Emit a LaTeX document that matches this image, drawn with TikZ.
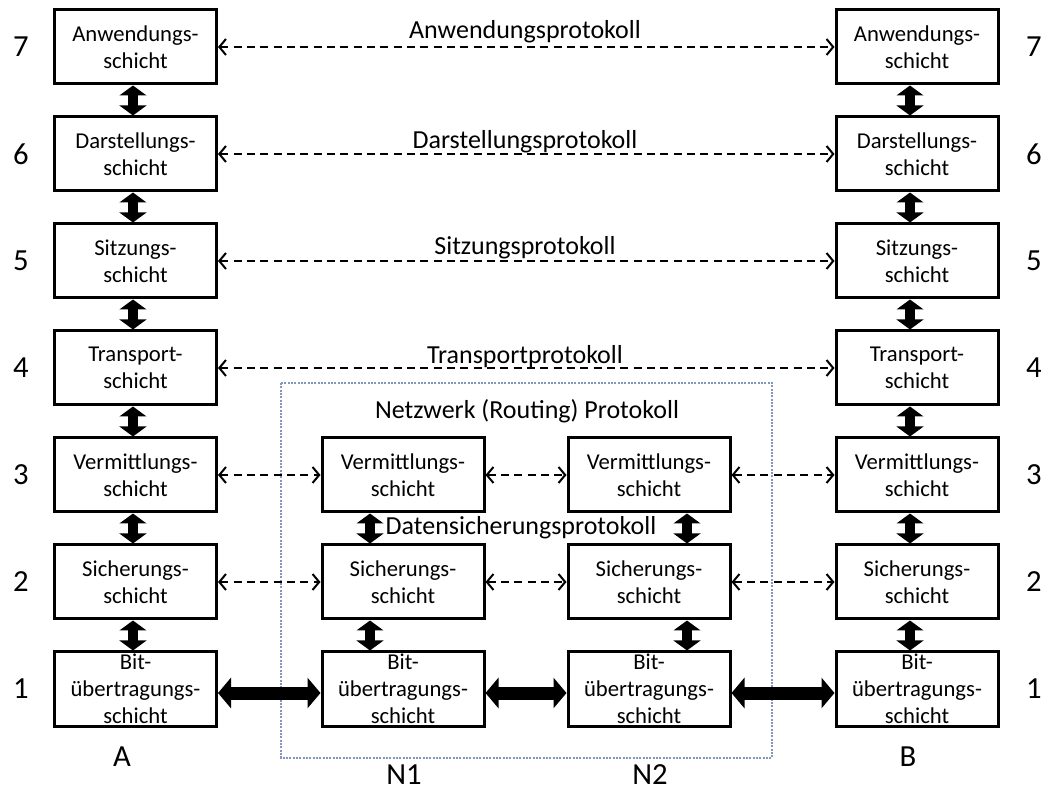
\documentclass[tikz,border=0pt]{standalone}
\usepackage{fontspec}
\setmainfont{Carlito}
\usetikzlibrary{arrows.meta}
\begin{document}
\begin{tikzpicture}[x=0.75pt,y=-0.75pt,
  layer/.style={draw, line width=2.25pt, minimum width=121.5pt, minimum height=55.5pt,
    inner sep=0pt, align=center, font=\fontsize{17}{20.4}\selectfont},
  proto/.style={font=\fontsize{19.5}{23}\selectfont, inner sep=0pt},
  big/.style={font=\fontsize{23}{27}\selectfont, inner sep=0pt},
  peer/.style={dash pattern=on 6pt off 4pt, line width=1.5pt,
    {Straight Barb[length=5pt,width=12pt]}-{Straight Barb[length=5pt,width=12pt]}},
  stack/.style={line width=8pt, {Triangle[length=7.5pt,width=20pt]}-{Triangle[length=7.5pt,width=20pt]}},
  link/.style={line width=9.75pt, {Triangle[length=9.75pt,width=22.5pt]}-{Triangle[length=9.75pt,width=22.5pt]}},
  netbox/.style={draw={rgb,255:red,130;green,150;blue,190}, densely dotted, line width=1.5pt},
]
% canvas
\fill[white] (0,0) rectangle (1047,791);

% network region around the intermediate systems
\draw[netbox] (281,383) rectangle (772,758);

% end systems A and B: seven layers each
\foreach \col/\x in {a/135.5, b/917}{
  \node[layer] (\col7) at (\x,47)  {Anwendungs-\\schicht};
  \node[layer] (\col6) at (\x,154) {Darstellungs-\\schicht};
  \node[layer] (\col5) at (\x,261) {Sitzungs-\\schicht};
  \node[layer] (\col4) at (\x,368) {Transport-\\schicht};
  \node[layer] (\col3) at (\x,475) {Vermittlungs-\\schicht};
  \node[layer] (\col2) at (\x,582) {Sicherungs-\\schicht};
  \node[layer] (\col1) at (\x,689) {Bit-\\übertragungs-\\schicht};
}
% intermediate nodes N1 and N2: lower three layers
\foreach \col/\x in {m/403, n/649}{
  \node[layer] (\col3) at (\x,475) {Vermittlungs-\\schicht};
  \node[layer] (\col2) at (\x,582) {Sicherungs-\\schicht};
  \node[layer] (\col1) at (\x,689) {Bit-\\übertragungs-\\schicht};
}

% layer numbers
\foreach \r/\y in {7/47, 6/154, 5/261, 4/368, 3/475, 2/582, 1/689}{
  \node[big] (numl\r) at (21,\y) {\r};
  \node[big] (numr\r) at (1034,\y) {\r};
}

% system labels
\node[big] (lblA) at (122,757) {A};
\node[big] (lblB) at (908,757) {B};
\node[big] (lblN1) at (404,775) {N1};
\node[big] (lblN2) at (650,775) {N2};

% protocol names
\node[proto] (p7) at (525,32)  {Anwendungsprotokoll};
\node[proto] (p6) at (525,142) {Darstellungsprotokoll};
\node[proto] (p5) at (525,248) {Sitzungsprotokoll};
\node[proto] (p4) at (525,357) {Transportprotokoll};
\node[proto] (p3) at (527,411) {Netzwerk (Routing) Protokoll};
\node[proto] (p2) at (521,528) {Datensicherungsprotokoll};

% peer-to-peer protocols
\foreach \r in {7,6,5,4}{
  \draw[peer] (a\r.east) -- (b\r.west);
}
\foreach \r in {3,2}{
  \draw[peer] (a\r.east) -- (m\r.west);
  \draw[peer] (m\r.east) -- (n\r.west);
  \draw[peer] (n\r.east) -- (b\r.west);
}

% physical links
\draw[link] ([yshift=-3pt]a1.east) -- ([yshift=-3pt]m1.west);
\draw[link] ([yshift=-3pt]m1.east) -- ([yshift=-3pt]n1.west);
\draw[link] ([yshift=-3pt]n1.east) -- ([yshift=-3pt]b1.west);

% interfaces between adjacent layers
\foreach \u/\l in {7/6, 6/5, 5/4, 4/3, 3/2, 2/1}{
  \draw[stack] ([xshift=-1.9pt]a\u.south) -- ([xshift=-1.9pt]a\l.north);
  \draw[stack] ([xshift=-5.25pt]b\u.south) -- ([xshift=-5.25pt]b\l.north);
}
\foreach \u/\l in {3/2, 2/1}{
  \draw[stack] ([xshift=-24.75pt]m\u.south) -- ([xshift=-24.75pt]m\l.north);
  \draw[stack] ([xshift=28.5pt]n\u.south) -- ([xshift=28.5pt]n\l.north);
}
\end{tikzpicture}
\end{document}
